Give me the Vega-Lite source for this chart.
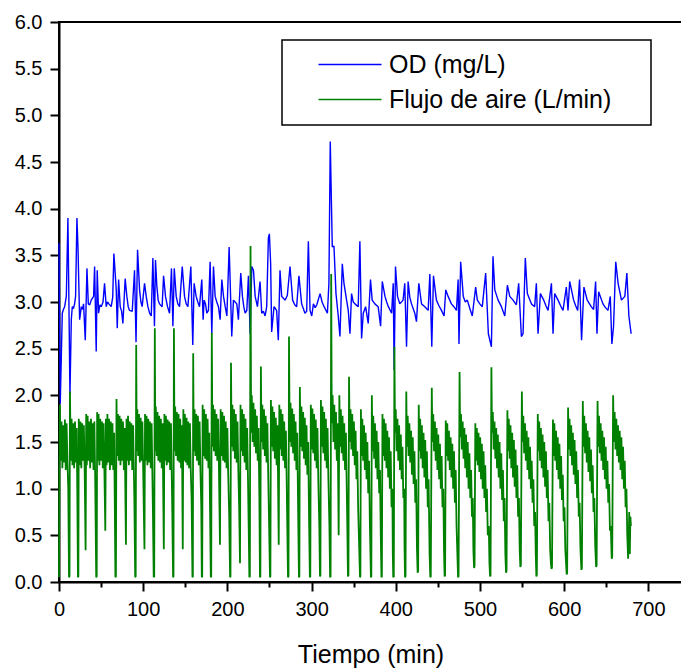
{
"$schema": "https://vega.github.io/schema/vega-lite/v6.json",
"autosize": {"type": "none"},
"padding": {"left": 59, "top": 22, "right": 0, "bottom": 86},
"width": 623,
"height": 560,
"background": "white",
"config": {
  "font": "Liberation Sans",
  "view": {"stroke": "black", "strokeWidth": 2},
  "legend": {"strokeWidth": 1.5}
},
"datasets": {
"od": [
{"t":0,"v":3.63},{"t":1.5,"v":1.91},{"t":3.9,"v":2.88},{"t":5.2,"v":2.92},{"t":6.7,"v":2.95},{"t":8.7,"v":3.06},{"t":10.6,"v":3.9},{"t":11.7,"v":3.06},{"t":13,"v":2.0},{"t":14.6,"v":2.81},{"t":15.8,"v":2.95},{"t":17.2,"v":2.93},{"t":18.5,"v":2.98},{"t":19.7,"v":3.06},{"t":21.3,"v":3.9},{"t":22.5,"v":3.6},{"t":24.5,"v":2.81},{"t":26.5,"v":2.95},{"t":27.8,"v":2.92},{"t":29.2,"v":2.98},{"t":31.2,"v":2.59},{"t":33.2,"v":3.36},{"t":34.8,"v":2.98},{"t":36.5,"v":2.97},{"t":38.3,"v":3.02},{"t":41.1,"v":3.06},{"t":42.3,"v":3.38},{"t":44.2,"v":2.47},{"t":45.4,"v":3.34},{"t":47,"v":2.88},{"t":48.6,"v":2.97},{"t":50.2,"v":2.95},{"t":52.3,"v":3.0},{"t":54.1,"v":3.2},{"t":56.1,"v":2.95},{"t":57.6,"v":3.0},{"t":59.3,"v":2.98},{"t":62,"v":2.95},{"t":63.8,"v":3.05},{"t":65.2,"v":3.52},{"t":68,"v":3.13},{"t":69.2,"v":2.72},{"t":70.8,"v":3.24},{"t":72.7,"v":2.95},{"t":74.4,"v":2.9},{"t":75.9,"v":2.77},{"t":78.6,"v":3.25},{"t":80.6,"v":3.06},{"t":82.2,"v":2.95},{"t":83.8,"v":2.91},{"t":87,"v":2.9},{"t":89.7,"v":3.34},{"t":91.5,"v":2.57},{"t":93.3,"v":3.56},{"t":95.7,"v":3.13},{"t":97.3,"v":3.0},{"t":98.8,"v":2.95},{"t":101.6,"v":3.2},{"t":103.6,"v":3.06},{"t":105.6,"v":2.95},{"t":107.6,"v":2.88},{"t":109.6,"v":2.85},{"t":111.5,"v":3.47},{"t":113.4,"v":2.74},{"t":114.6,"v":3.45},{"t":116.2,"v":3.17},{"t":117.8,"v":3.02},{"t":119.4,"v":2.98},{"t":122.5,"v":2.95},{"t":124.2,"v":3.28},{"t":126.5,"v":3.06},{"t":128.9,"v":2.95},{"t":131.3,"v":2.88},{"t":133.6,"v":3.36},{"t":135.3,"v":2.74},{"t":136.9,"v":3.36},{"t":139.2,"v":3.06},{"t":141.2,"v":2.98},{"t":143.2,"v":2.95},{"t":146.4,"v":3.38},{"t":149.1,"v":3.06},{"t":151.1,"v":2.98},{"t":153.1,"v":2.95},{"t":156.6,"v":3.38},{"t":158.9,"v":2.54},{"t":160.5,"v":3.2},{"t":162.9,"v":3.06},{"t":164.9,"v":3.0},{"t":166.9,"v":2.95},{"t":169.6,"v":3.24},{"t":171.2,"v":2.81},{"t":172.4,"v":3.02},{"t":174,"v":2.98},{"t":175.6,"v":2.88},{"t":177.5,"v":2.91},{"t":179.5,"v":3.43},{"t":181.5,"v":2.66},{"t":183.5,"v":3.38},{"t":185.5,"v":3.06},{"t":187.4,"v":3.0},{"t":189.4,"v":2.95},{"t":191.4,"v":2.81},{"t":193.4,"v":3.24},{"t":195.4,"v":3.06},{"t":197.4,"v":2.95},{"t":199.4,"v":2.85},{"t":202.1,"v":3.59},{"t":205.2,"v":2.63},{"t":207.2,"v":3.02},{"t":209.2,"v":3.0},{"t":211.2,"v":2.98},{"t":213.1,"v":2.81},{"t":215.9,"v":3.31},{"t":217.9,"v":3.06},{"t":219.5,"v":2.95},{"t":221.1,"v":2.88},{"t":223.1,"v":2.91},{"t":225,"v":3.28},{"t":227,"v":2.66},{"t":229,"v":3.38},{"t":231,"v":3.34},{"t":233,"v":3.06},{"t":235.7,"v":2.95},{"t":238.8,"v":3.22},{"t":240.8,"v":2.88},{"t":242.8,"v":2.9},{"t":244.8,"v":2.85},{"t":246.7,"v":2.95},{"t":248.7,"v":3.69},{"t":249.9,"v":3.73},{"t":251.4,"v":3.41},{"t":252.6,"v":2.68},{"t":255.4,"v":2.95},{"t":257,"v":2.93},{"t":258.5,"v":2.91},{"t":260.5,"v":2.59},{"t":262.5,"v":3.34},{"t":264.5,"v":3.06},{"t":266.5,"v":3.04},{"t":268.5,"v":3.02},{"t":271.2,"v":3.07},{"t":274.4,"v":3.38},{"t":277.5,"v":3.02},{"t":280,"v":2.97},{"t":282.3,"v":2.95},{"t":285,"v":3.28},{"t":288.2,"v":2.98},{"t":290.2,"v":2.93},{"t":292.1,"v":2.88},{"t":294.2,"v":2.9},{"t":296.2,"v":3.65},{"t":298.2,"v":2.91},{"t":300.2,"v":2.85},{"t":302.2,"v":2.98},{"t":304.2,"v":2.94},{"t":306.2,"v":2.97},{"t":310.1,"v":3.09},{"t":312.5,"v":3.0},{"t":314.9,"v":2.95},{"t":318.8,"v":2.88},{"t":320.6,"v":3.2},{"t":322.2,"v":4.72},{"t":324.6,"v":3.59},{"t":326.6,"v":3.6},{"t":329,"v":3.09},{"t":331.7,"v":2.85},{"t":333.7,"v":2.63},{"t":336.5,"v":3.41},{"t":338.5,"v":3.2},{"t":341.6,"v":3.02},{"t":343.6,"v":2.91},{"t":345.6,"v":2.66},{"t":347.5,"v":3.09},{"t":349.5,"v":3.0},{"t":351.5,"v":2.98},{"t":355.4,"v":2.95},{"t":357.4,"v":3.65},{"t":359.4,"v":2.61},{"t":361.4,"v":2.88},{"t":364.2,"v":2.95},{"t":367.3,"v":2.77},{"t":370,"v":3.24},{"t":372,"v":3.02},{"t":375.2,"v":2.98},{"t":379.1,"v":2.95},{"t":382,"v":2.74},{"t":384,"v":3.22},{"t":387.2,"v":3.06},{"t":389.2,"v":3.0},{"t":391.2,"v":2.95},{"t":395.1,"v":2.88},{"t":397,"v":3.2},{"t":398.1,"v":2.27},{"t":399.7,"v":3.38},{"t":402.1,"v":3.06},{"t":404.8,"v":2.98},{"t":408.7,"v":3.02},{"t":410.7,"v":3.2},{"t":412.8,"v":2.52},{"t":414.7,"v":3.22},{"t":416.7,"v":3.05},{"t":418.7,"v":2.98},{"t":422.6,"v":2.88},{"t":424.6,"v":2.79},{"t":427.4,"v":3.2},{"t":430.6,"v":2.98},{"t":434.5,"v":2.95},{"t":438.5,"v":2.91},{"t":440.5,"v":3.3},{"t":442.8,"v":2.52},{"t":444.8,"v":3.28},{"t":448.3,"v":3.02},{"t":451.3,"v":2.96},{"t":454.3,"v":2.91},{"t":457.4,"v":2.85},{"t":459.4,"v":3.13},{"t":462.2,"v":3.06},{"t":466.1,"v":2.98},{"t":469.1,"v":2.95},{"t":472.1,"v":2.91},{"t":474.1,"v":3.24},{"t":475.1,"v":2.55},{"t":477.1,"v":3.43},{"t":480.2,"v":3.06},{"t":482.6,"v":3.0},{"t":485,"v":3.02},{"t":488,"v":2.93},{"t":490.9,"v":2.85},{"t":494.9,"v":3.16},{"t":496.9,"v":3.02},{"t":499.8,"v":2.98},{"t":502.8,"v":2.95},{"t":506.8,"v":3.31},{"t":510,"v":2.66},{"t":513.6,"v":2.52},{"t":515.5,"v":3.49},{"t":517.6,"v":3.13},{"t":521.6,"v":3.02},{"t":525.5,"v":2.95},{"t":529.5,"v":2.85},{"t":532.6,"v":3.18},{"t":535.4,"v":3.06},{"t":539.3,"v":3.02},{"t":543.3,"v":2.97},{"t":546,"v":3.2},{"t":549.2,"v":2.63},{"t":551.2,"v":2.66},{"t":553.9,"v":3.47},{"t":556.3,"v":3.09},{"t":561.1,"v":2.98},{"t":565,"v":2.95},{"t":567,"v":3.2},{"t":569,"v":2.66},{"t":571.8,"v":3.09},{"t":575.8,"v":3.02},{"t":578.4,"v":2.96},{"t":580.9,"v":2.91},{"t":584.9,"v":3.2},{"t":586.8,"v":2.66},{"t":588.8,"v":3.09},{"t":592.8,"v":3.02},{"t":595.8,"v":2.96},{"t":598.7,"v":2.91},{"t":602.6,"v":3.16},{"t":604.6,"v":2.91},{"t":606.6,"v":3.22},{"t":611.3,"v":3.02},{"t":613.7,"v":2.96},{"t":616.1,"v":2.91},{"t":618.3,"v":3.24},{"t":620.7,"v":2.59},{"t":623.5,"v":3.16},{"t":627.4,"v":3.02},{"t":632.2,"v":2.95},{"t":635,"v":2.92},{"t":637.4,"v":3.22},{"t":639,"v":2.66},{"t":641,"v":3.11},{"t":646.1,"v":2.98},{"t":649.1,"v":2.94},{"t":652.1,"v":2.91},{"t":654.8,"v":3.06},{"t":656.7,"v":2.55},{"t":658.7,"v":2.74},{"t":661.3,"v":3.43},{"t":664.1,"v":3.2},{"t":668.1,"v":3.02},{"t":672.1,"v":3.06},{"t":674.5,"v":3.31},{"t":676.9,"v":2.85},{"t":679.6,"v":2.66}
],
"aire": [
{"t":0,"v":0.05},{"t":0.5,"v":1.2},{"t":1,"v":1.9},{"t":2,"v":1.3},{"t":3,"v":1.72},{"t":4,"v":1.22},{"t":5,"v":1.68},{"t":6,"v":1.28},{"t":7,"v":1.74},{"t":8,"v":1.2},{"t":9,"v":1.7},{"t":10,"v":1.3},{"t":11,"v":1.0},{"t":11.9,"v":0.05},{"t":12.5,"v":0.06},
{"t":13,"v":2.04},{"t":14,"v":1.3},{"t":15,"v":1.75},{"t":16,"v":1.25},{"t":17,"v":1.7},{"t":18,"v":1.22},{"t":19,"v":1.72},{"t":20,"v":1.28},{"t":21,"v":1.65},{"t":21.8,"v":0.9},{"t":22.5,"v":0.05},{"t":23,"v":0.06},
{"t":23.5,"v":1.75},{"t":24.5,"v":1.25},{"t":25.5,"v":1.72},{"t":26.5,"v":1.22},{"t":27.5,"v":1.7},{"t":28.5,"v":1.3},{"t":29.5,"v":1.68},{"t":30.5,"v":1.2},{"t":31.6,"v":0.34},
{"t":32.3,"v":1.8},{"t":33,"v":1.25},{"t":34,"v":1.78},{"t":35,"v":1.3},{"t":36,"v":1.72},{"t":37,"v":1.22},{"t":38,"v":1.75},{"t":39,"v":1.28},{"t":40,"v":1.7},{"t":41,"v":1.2},{"t":42,"v":1.72},{"t":43,"v":1.1},{"t":44.2,"v":0.05},{"t":44.8,"v":0.06},
{"t":45.3,"v":1.82},{"t":46,"v":1.3},{"t":47,"v":1.8},{"t":48,"v":1.25},{"t":49,"v":1.75},{"t":50,"v":1.3},{"t":51,"v":1.72},{"t":52,"v":1.22},{"t":53,"v":1.7},{"t":54,"v":1.15},{"t":55,"v":0.55},
{"t":55.7,"v":1.75},{"t":56.5,"v":1.25},{"t":57.5,"v":1.8},{"t":58.5,"v":1.28},{"t":59.5,"v":1.75},{"t":60.5,"v":1.2},{"t":61.5,"v":1.72},{"t":62.5,"v":1.25},{"t":63.5,"v":1.7},{"t":64.5,"v":1.2},{"t":65.5,"v":1.6},{"t":66.3,"v":0.8},{"t":67,"v":0.05},{"t":67.6,"v":0.06},
{"t":68.3,"v":1.96},{"t":69,"v":1.35},{"t":70,"v":1.8},{"t":71,"v":1.3},{"t":72,"v":1.78},{"t":73,"v":1.25},{"t":74,"v":1.75},{"t":75,"v":1.3},{"t":76,"v":1.72},{"t":77,"v":1.2},{"t":78,"v":1.65},{"t":79.5,"v":0.4},
{"t":80.2,"v":1.75},{"t":81,"v":1.3},{"t":82,"v":1.78},{"t":83,"v":1.25},{"t":84,"v":1.72},{"t":85,"v":1.3},{"t":86,"v":1.7},{"t":87,"v":1.2},{"t":88,"v":1.68},{"t":89.5,"v":0.9},{"t":90.5,"v":0.05},{"t":91.1,"v":0.06},
{"t":91.7,"v":2.54},{"t":92.3,"v":1.4},{"t":93,"v":1.85},{"t":94,"v":1.35},{"t":95,"v":1.8},{"t":96,"v":1.28},{"t":97,"v":1.76},{"t":98,"v":1.3},{"t":99,"v":1.72},{"t":100,"v":1.2},{"t":101.5,"v":0.35},
{"t":102.2,"v":1.8},{"t":103,"v":1.3},{"t":104,"v":1.78},{"t":105,"v":1.25},{"t":106,"v":1.75},{"t":107,"v":1.28},{"t":108,"v":1.72},{"t":109,"v":1.22},{"t":110,"v":1.7},{"t":111.5,"v":0.8},{"t":112.5,"v":0.05},{"t":113.1,"v":0.06},
{"t":113.8,"v":2.72},{"t":114.4,"v":1.4},{"t":115,"v":1.88},{"t":116,"v":1.35},{"t":117,"v":1.82},{"t":118,"v":1.3},{"t":119,"v":1.78},{"t":120,"v":1.28},{"t":121,"v":1.75},{"t":122,"v":1.22},{"t":123,"v":1.7},{"t":124.5,"v":0.35},
{"t":125.2,"v":1.8},{"t":126,"v":1.3},{"t":127,"v":1.78},{"t":128,"v":1.25},{"t":129,"v":1.74},{"t":130,"v":1.28},{"t":131,"v":1.72},{"t":132,"v":1.2},{"t":133,"v":1.7},{"t":134.5,"v":0.8},{"t":135.5,"v":0.05},{"t":136,"v":0.06},
{"t":136.5,"v":2.72},{"t":137.2,"v":1.4},{"t":138,"v":1.88},{"t":139,"v":1.35},{"t":140,"v":1.82},{"t":141,"v":1.3},{"t":142,"v":1.8},{"t":143,"v":1.28},{"t":144,"v":1.75},{"t":145,"v":1.22},{"t":146,"v":1.68},{"t":147,"v":0.35},
{"t":147.7,"v":1.85},{"t":148.5,"v":1.3},{"t":149.5,"v":1.8},{"t":150.5,"v":1.28},{"t":151.5,"v":1.76},{"t":152.5,"v":1.25},{"t":153.5,"v":1.72},{"t":154.5,"v":1.22},{"t":155.5,"v":1.7},{"t":156.5,"v":1.2},{"t":157.5,"v":0.9},{"t":158.5,"v":0.05},{"t":159,"v":0.06},
{"t":159.4,"v":2.45},{"t":160,"v":1.4},{"t":161,"v":1.85},{"t":162,"v":1.35},{"t":163,"v":1.8},{"t":164,"v":1.3},{"t":165,"v":1.78},{"t":166,"v":1.25},{"t":167,"v":1.72},{"t":168,"v":1.2},{"t":169,"v":0.8},{"t":169.6,"v":0.05},{"t":170.1,"v":0.06},
{"t":170.6,"v":1.9},{"t":171.5,"v":1.35},{"t":172.5,"v":1.85},{"t":173.5,"v":1.32},{"t":174.5,"v":1.8},{"t":175.5,"v":1.3},{"t":176.5,"v":1.75},{"t":177.5,"v":1.22},{"t":178.5,"v":1.6},{"t":179.5,"v":0.7},{"t":180.3,"v":0.05},{"t":180.8,"v":0.06},
{"t":181.5,"v":2.67},{"t":182.2,"v":1.45},{"t":183,"v":1.9},{"t":184,"v":1.4},{"t":185,"v":1.85},{"t":186,"v":1.35},{"t":187,"v":1.8},{"t":188,"v":1.3},{"t":189,"v":1.75},{"t":190,"v":1.2},{"t":191.2,"v":0.4},
{"t":192,"v":1.85},{"t":193,"v":1.35},{"t":194,"v":1.82},{"t":195,"v":1.3},{"t":196,"v":1.78},{"t":197,"v":1.28},{"t":198,"v":1.72},{"t":199,"v":1.22},{"t":200,"v":1.65},{"t":201,"v":1.15},{"t":202.2,"v":0.7},{"t":203.2,"v":0.05},{"t":203.7,"v":0.06},
{"t":204.3,"v":2.35},{"t":205,"v":1.45},{"t":206,"v":1.9},{"t":207,"v":1.4},{"t":208,"v":1.85},{"t":209,"v":1.32},{"t":210,"v":1.8},{"t":211,"v":1.28},{"t":212,"v":1.72},{"t":213,"v":1.2},{"t":214,"v":0.8},{"t":215,"v":0.2},
{"t":215.6,"v":1.9},{"t":216.5,"v":1.4},{"t":217.5,"v":1.85},{"t":218.5,"v":1.35},{"t":219.5,"v":1.8},{"t":220.5,"v":1.28},{"t":221.5,"v":1.75},{"t":222.5,"v":1.2},{"t":223.5,"v":1.65},{"t":224.5,"v":1.1},{"t":225.3,"v":0.6},{"t":226.1,"v":0.05},{"t":226.7,"v":0.06},
{"t":227.5,"v":3.6},{"t":228.2,"v":1.6},{"t":229,"v":2.0},{"t":230,"v":1.5},{"t":231,"v":1.92},{"t":232,"v":1.45},{"t":233,"v":1.85},{"t":234,"v":1.38},{"t":235,"v":1.78},{"t":236,"v":1.3},{"t":237,"v":1.65},{"t":238,"v":0.9},{"t":238.7,"v":0.05},{"t":239.2,"v":0.06},
{"t":239.8,"v":2.31},{"t":240.5,"v":1.5},{"t":241.5,"v":1.9},{"t":242.5,"v":1.42},{"t":243.5,"v":1.85},{"t":244.5,"v":1.35},{"t":245.5,"v":1.78},{"t":246.5,"v":1.28},{"t":247.5,"v":1.7},{"t":248.5,"v":1.15},{"t":249.6,"v":0.6},{"t":250.6,"v":0.05},{"t":251.1,"v":0.06},
{"t":251.7,"v":1.95},{"t":252.5,"v":1.45},{"t":253.5,"v":1.88},{"t":254.5,"v":1.4},{"t":255.5,"v":1.82},{"t":256.5,"v":1.32},{"t":257.5,"v":1.76},{"t":258.5,"v":1.25},{"t":259.5,"v":1.68},{"t":260.3,"v":1.0},{"t":261,"v":0.4},
{"t":261.7,"v":1.9},{"t":262.5,"v":1.42},{"t":263.5,"v":1.85},{"t":264.5,"v":1.35},{"t":265.5,"v":1.8},{"t":266.5,"v":1.3},{"t":267.5,"v":1.72},{"t":268.5,"v":1.22},{"t":269.5,"v":1.62},{"t":270.5,"v":1.05},{"t":271.3,"v":0.5},{"t":272,"v":0.05},{"t":272.6,"v":0.06},
{"t":273.2,"v":2.63},{"t":274,"v":1.5},{"t":275,"v":1.92},{"t":276,"v":1.45},{"t":277,"v":1.86},{"t":278,"v":1.38},{"t":279,"v":1.8},{"t":280,"v":1.3},{"t":281,"v":1.72},{"t":282,"v":1.2},{"t":283,"v":1.6},{"t":284,"v":0.8},{"t":285,"v":0.05},{"t":285.5,"v":0.06},
{"t":286.1,"v":2.09},{"t":287,"v":1.45},{"t":288,"v":1.88},{"t":289,"v":1.4},{"t":290,"v":1.82},{"t":291,"v":1.32},{"t":292,"v":1.76},{"t":293,"v":1.25},{"t":294,"v":1.68},{"t":295,"v":1.15},{"t":296,"v":1.5},{"t":297,"v":0.7},{"t":298,"v":0.05},{"t":298.5,"v":0.06},
{"t":299.1,"v":1.9},{"t":300,"v":1.42},{"t":301,"v":1.86},{"t":302,"v":1.38},{"t":303,"v":1.8},{"t":304,"v":1.3},{"t":305,"v":1.74},{"t":306,"v":1.22},{"t":307,"v":1.65},{"t":308,"v":1.1},{"t":309.2,"v":0.6},{"t":310,"v":0.06},{"t":310.5,"v":0.07},
{"t":311.1,"v":1.95},{"t":312,"v":1.45},{"t":313,"v":1.88},{"t":314,"v":1.38},{"t":315,"v":1.82},{"t":316,"v":1.3},{"t":317,"v":1.75},{"t":318,"v":1.22},{"t":319,"v":1.65},{"t":320,"v":1.1},{"t":321.2,"v":0.6},{"t":322,"v":0.05},{"t":322.6,"v":0.06},
{"t":323.3,"v":3.3},{"t":324,"v":1.7},{"t":325,"v":2.0},{"t":326,"v":1.5},{"t":327,"v":1.9},{"t":328,"v":1.42},{"t":329,"v":1.82},{"t":330,"v":1.3},{"t":331,"v":1.7},{"t":332.2,"v":0.5},
{"t":333,"v":2.0},{"t":333.8,"v":1.45},{"t":334.8,"v":1.85},{"t":335.8,"v":1.38},{"t":336.8,"v":1.78},{"t":337.8,"v":1.3},{"t":338.8,"v":1.7},{"t":339.8,"v":1.2},{"t":340.8,"v":1.6},{"t":341.8,"v":1.0},{"t":342.6,"v":0.5},{"t":343.2,"v":0.06},{"t":343.8,"v":0.07},
{"t":344.5,"v":2.2},{"t":345.3,"v":1.5},{"t":346.3,"v":1.85},{"t":347.3,"v":1.42},{"t":348.3,"v":1.8},{"t":349.3,"v":1.35},{"t":350.3,"v":1.72},{"t":351.3,"v":1.25},{"t":352.3,"v":1.62},{"t":353.3,"v":1.1},{"t":354.3,"v":1.4},{"t":355.3,"v":0.8},{"t":356.5,"v":0.4},{"t":357.5,"v":0.05},{"t":358,"v":0.06},
{"t":358.6,"v":1.85},{"t":359.3,"v":1.35},{"t":360.3,"v":1.75},{"t":361.3,"v":1.3},{"t":362.3,"v":1.68},{"t":363.3,"v":1.2},{"t":364.3,"v":1.6},{"t":365.3,"v":1.1},{"t":366.3,"v":1.5},{"t":367.3,"v":0.95},{"t":368.3,"v":1.3},{"t":369.3,"v":0.6},{"t":370.5,"v":0.05},{"t":371,"v":0.06},
{"t":371.6,"v":2.0},{"t":372.3,"v":1.4},{"t":373.3,"v":1.78},{"t":374.3,"v":1.32},{"t":375.3,"v":1.7},{"t":376.3,"v":1.22},{"t":377.3,"v":1.62},{"t":378.3,"v":1.1},{"t":379.3,"v":1.5},{"t":380.3,"v":0.95},{"t":381.3,"v":1.2},{"t":382.2,"v":0.5},{"t":383,"v":0.05},{"t":383.5,"v":0.06},
{"t":384.2,"v":1.8},{"t":385,"v":1.35},{"t":386,"v":1.75},{"t":387,"v":1.3},{"t":388,"v":1.7},{"t":389,"v":1.22},{"t":390,"v":1.62},{"t":391,"v":1.12},{"t":392,"v":1.55},{"t":393,"v":1.0},{"t":394,"v":1.4},{"t":395,"v":0.8},{"t":396,"v":1.0},{"t":396.5,"v":0.3},{"t":397,"v":0.05},{"t":397.7,"v":0.06},
{"t":398.4,"v":2.52},{"t":399.1,"v":1.6},{"t":400,"v":1.85},{"t":401,"v":1.4},{"t":402,"v":1.75},{"t":403,"v":1.3},{"t":404,"v":1.68},{"t":405,"v":1.2},{"t":406,"v":1.58},{"t":407,"v":1.1},{"t":408,"v":1.45},{"t":409,"v":0.9},{"t":410,"v":1.0},{"t":410.4,"v":0.4},{"t":411,"v":0.05},{"t":411.6,"v":0.06},
{"t":412.5,"v":2.04},{"t":413.2,"v":1.45},{"t":414.2,"v":1.78},{"t":415.2,"v":1.35},{"t":416.2,"v":1.7},{"t":417.2,"v":1.28},{"t":418.2,"v":1.62},{"t":419.2,"v":1.15},{"t":420.2,"v":1.55},{"t":421.2,"v":1.05},{"t":422.2,"v":1.4},{"t":423.2,"v":0.85},{"t":424.2,"v":1.1},{"t":425.2,"v":0.35},{"t":426,"v":0.1},{"t":426.6,"v":0.12},
{"t":427.3,"v":1.9},{"t":428,"v":1.4},{"t":429,"v":1.75},{"t":430,"v":1.32},{"t":431,"v":1.68},{"t":432,"v":1.22},{"t":433,"v":1.6},{"t":434,"v":1.12},{"t":435,"v":1.52},{"t":436,"v":1.0},{"t":437,"v":1.4},{"t":438,"v":0.8},{"t":439,"v":1.1},{"t":440.2,"v":0.3},{"t":441,"v":0.05},{"t":441.6,"v":0.06},
{"t":442.8,"v":2.08},{"t":443.5,"v":1.5},{"t":444.5,"v":1.8},{"t":445.5,"v":1.4},{"t":446.5,"v":1.72},{"t":447.5,"v":1.3},{"t":448.5,"v":1.65},{"t":449.5,"v":1.2},{"t":450.5,"v":1.58},{"t":451.5,"v":1.1},{"t":452.5,"v":1.48},{"t":453.5,"v":1.0},{"t":454.5,"v":1.35},{"t":455.5,"v":0.8},{"t":456.5,"v":1.0},{"t":457.3,"v":0.35},{"t":458,"v":0.06},{"t":458.6,"v":0.07},
{"t":459.4,"v":1.73},{"t":460.2,"v":1.35},{"t":461.2,"v":1.7},{"t":462.2,"v":1.3},{"t":463.2,"v":1.62},{"t":464.2,"v":1.2},{"t":465.2,"v":1.55},{"t":466.2,"v":1.12},{"t":467.2,"v":1.48},{"t":468.2,"v":1.0},{"t":469.2,"v":1.4},{"t":470.2,"v":0.85},{"t":471.2,"v":1.2},{"t":472.2,"v":0.6},{"t":473.2,"v":0.3},{"t":474,"v":0.05},{"t":474.6,"v":0.06},
{"t":475.8,"v":2.25},{"t":476.5,"v":1.55},{"t":477.5,"v":1.8},{"t":478.5,"v":1.42},{"t":479.5,"v":1.72},{"t":480.5,"v":1.32},{"t":481.5,"v":1.65},{"t":482.5,"v":1.22},{"t":483.5,"v":1.58},{"t":484.5,"v":1.12},{"t":485.5,"v":1.5},{"t":486.5,"v":1.0},{"t":487.5,"v":1.38},{"t":488.5,"v":0.9},{"t":489.5,"v":1.2},{"t":490.5,"v":0.7},{"t":491.5,"v":0.9},{"t":492.2,"v":0.35},{"t":493,"v":0.15},{"t":493.6,"v":0.17},
{"t":494.5,"v":1.7},{"t":495.3,"v":1.3},{"t":496.3,"v":1.65},{"t":497.3,"v":1.25},{"t":498.3,"v":1.6},{"t":499.3,"v":1.18},{"t":500.3,"v":1.55},{"t":501.3,"v":1.1},{"t":502.3,"v":1.48},{"t":503.3,"v":1.0},{"t":504.3,"v":1.4},{"t":505.3,"v":0.9},{"t":506.3,"v":1.25},{"t":507.3,"v":0.75},{"t":508.3,"v":1.0},{"t":509.3,"v":0.5},{"t":510.5,"v":0.6},{"t":511.3,"v":0.2},{"t":512,"v":0.06},{"t":512.6,"v":0.07},
{"t":513.6,"v":2.3},{"t":514.3,"v":1.6},{"t":515.3,"v":1.82},{"t":516.3,"v":1.42},{"t":517.3,"v":1.72},{"t":518.3,"v":1.32},{"t":519.3,"v":1.65},{"t":520.3,"v":1.22},{"t":521.3,"v":1.58},{"t":522.3,"v":1.12},{"t":523.3,"v":1.5},{"t":524.3,"v":1.0},{"t":525.3,"v":1.38},{"t":526.3,"v":0.88},{"t":527.3,"v":1.2},{"t":528.3,"v":0.65},{"t":529.3,"v":0.9},{"t":530.2,"v":0.3},{"t":531,"v":0.1},{"t":531.6,"v":0.12},
{"t":532.6,"v":1.84},{"t":533.3,"v":1.4},{"t":534.3,"v":1.75},{"t":535.3,"v":1.32},{"t":536.3,"v":1.68},{"t":537.3,"v":1.22},{"t":538.3,"v":1.6},{"t":539.3,"v":1.12},{"t":540.3,"v":1.52},{"t":541.3,"v":1.02},{"t":542.3,"v":1.42},{"t":543.3,"v":0.9},{"t":544.3,"v":1.25},{"t":545.3,"v":0.7},{"t":546.3,"v":0.9},{"t":547.2,"v":0.35},{"t":548,"v":0.16},{"t":548.6,"v":0.18},
{"t":549.8,"v":2.04},{"t":550.5,"v":1.5},{"t":551.5,"v":1.78},{"t":552.5,"v":1.38},{"t":553.5,"v":1.7},{"t":554.5,"v":1.3},{"t":555.5,"v":1.62},{"t":556.5,"v":1.2},{"t":557.5,"v":1.55},{"t":558.5,"v":1.1},{"t":559.5,"v":1.45},{"t":560.5,"v":1.0},{"t":561.5,"v":1.3},{"t":562.5,"v":0.85},{"t":563.5,"v":1.1},{"t":564.5,"v":0.6},{"t":565.5,"v":0.75},{"t":566.3,"v":0.3},{"t":567,"v":0.06},{"t":567.6,"v":0.08},
{"t":568.7,"v":1.8},{"t":569.4,"v":1.4},{"t":570.4,"v":1.72},{"t":571.4,"v":1.3},{"t":572.4,"v":1.65},{"t":573.4,"v":1.22},{"t":574.4,"v":1.58},{"t":575.4,"v":1.12},{"t":576.4,"v":1.5},{"t":577.4,"v":1.02},{"t":578.4,"v":1.4},{"t":579.4,"v":0.9},{"t":580.4,"v":1.2},{"t":581.4,"v":0.65},{"t":582.4,"v":0.85},{"t":583.4,"v":0.35},{"t":584.3,"v":0.2},{"t":585,"v":0.14},{"t":585.6,"v":0.16},
{"t":586.7,"v":1.74},{"t":587.4,"v":1.35},{"t":588.4,"v":1.7},{"t":589.4,"v":1.3},{"t":590.4,"v":1.62},{"t":591.4,"v":1.2},{"t":592.4,"v":1.55},{"t":593.4,"v":1.1},{"t":594.4,"v":1.48},{"t":595.4,"v":1.0},{"t":596.4,"v":1.35},{"t":597.4,"v":0.88},{"t":598.4,"v":1.15},{"t":599.4,"v":0.65},{"t":600.4,"v":0.8},{"t":601.4,"v":0.35},{"t":602.3,"v":0.2},{"t":603,"v":0.08},{"t":603.6,"v":0.1},
{"t":604.7,"v":1.87},{"t":605.4,"v":1.42},{"t":606.4,"v":1.75},{"t":607.4,"v":1.35},{"t":608.4,"v":1.68},{"t":609.4,"v":1.25},{"t":610.4,"v":1.6},{"t":611.4,"v":1.15},{"t":612.4,"v":1.52},{"t":613.4,"v":1.05},{"t":614.4,"v":1.4},{"t":615.4,"v":0.9},{"t":616.4,"v":1.2},{"t":617.4,"v":0.7},{"t":618.4,"v":0.85},{"t":619.4,"v":0.35},{"t":620.5,"v":0.13},{"t":621.1,"v":0.15},
{"t":622.2,"v":1.94},{"t":622.9,"v":1.45},{"t":623.9,"v":1.78},{"t":624.9,"v":1.38},{"t":625.9,"v":1.7},{"t":626.9,"v":1.28},{"t":627.9,"v":1.62},{"t":628.9,"v":1.18},{"t":629.9,"v":1.55},{"t":630.9,"v":1.08},{"t":631.9,"v":1.42},{"t":632.9,"v":0.95},{"t":633.9,"v":1.25},{"t":634.9,"v":0.75},{"t":635.9,"v":0.9},{"t":636.9,"v":0.4},{"t":638,"v":0.16},{"t":638.6,"v":0.18},
{"t":639.7,"v":1.94},{"t":640.4,"v":1.45},{"t":641.4,"v":1.78},{"t":642.4,"v":1.38},{"t":643.4,"v":1.7},{"t":644.4,"v":1.3},{"t":645.4,"v":1.62},{"t":646.4,"v":1.2},{"t":647.4,"v":1.55},{"t":648.4,"v":1.1},{"t":649.4,"v":1.45},{"t":650.4,"v":1.0},{"t":651.4,"v":1.3},{"t":652.4,"v":0.85},{"t":653.4,"v":1.05},{"t":654.4,"v":0.55},{"t":655.4,"v":0.6},{"t":656.5,"v":0.25},{"t":657.1,"v":0.27},
{"t":658.2,"v":2.0},{"t":659,"v":1.5},{"t":660,"v":1.82},{"t":661,"v":1.42},{"t":662,"v":1.75},{"t":663,"v":1.35},{"t":664,"v":1.68},{"t":665,"v":1.28},{"t":666,"v":1.62},{"t":667,"v":1.2},{"t":668,"v":1.55},{"t":669,"v":1.1},{"t":670,"v":1.45},{"t":671,"v":1.0},{"t":672,"v":1.3},{"t":673,"v":0.8},{"t":674,"v":1.0},{"t":675,"v":0.5},{"t":676,"v":0.25},{"t":676.6,"v":0.4},{"t":677.3,"v":0.75},{"t":678,"v":0.3},{"t":678.7,"v":0.7},{"t":679.3,"v":0.6}
]
},
"layer": [
{
  "data": {"name": "od"},
  "mark": {"type": "line", "strokeWidth": 1.4, "strokeJoin": "bevel"},
  "encoding": {
    "x": {"field": "t", "type": "quantitative",
      "scale": {"domain": [0, 740], "nice": false, "zero": false},
      "axis": {
        "values": [0,50,100,150,200,250,300,350,400,450,500,550,600,650,700],
        "labelExpr": "datum.value % 100 === 0 ? format(datum.value, 'd') : ''",
        "tickSize": {"condition": {"test": "datum.value % 100 === 0", "value": 9}, "value": 5},
        "tickWidth": 2, "tickColor": "black",
        "domainWidth": 2, "domainColor": "black",
        "grid": false,
        "labelFontSize": 20, "labelColor": "black", "labelPadding": 8,
        "labelFlush": false, "labelOverlap": false,
        "title": "Tiempo (min)", "titleFontSize": 25, "titleFontWeight": "normal",
        "titleColor": "black", "titlePadding": 23
      }
    },
    "y": {"field": "v", "type": "quantitative",
      "scale": {"domain": [0, 6], "nice": false, "zero": false},
      "axis": {
        "values": [0,0.25,0.5,0.75,1,1.25,1.5,1.75,2,2.25,2.5,2.75,3,3.25,3.5,3.75,4,4.25,4.5,4.75,5,5.25,5.5,5.75,6],
        "labelExpr": "round(datum.value*4) % 2 === 0 ? format(datum.value, '.1f') : ''",
        "tickSize": {"condition": {"test": "round(datum.value*4) % 2 === 0", "value": 9}, "value": 5},
        "tickWidth": 2, "tickColor": "black",
        "domainWidth": 2, "domainColor": "black",
        "grid": false,
        "labelFontSize": 20, "labelColor": "black", "labelPadding": 8,
        "labelFlush": false, "labelOverlap": false,
        "title": null
      }
    },
    "color": {"datum": "OD (mg/L)", "type": "nominal",
      "scale": {"domain": ["OD (mg/L)", "Flujo de aire (L/min)"], "range": ["#0000ff", "#008000"]},
      "legend": {
        "orient": "none", "legendX": 223, "legendY": 18,
        "title": null,
        "strokeColor": "black",
        "fillColor": "white",
        "padding": 12,
        "rowPadding": 9,
        "labelFontSize": 25, "labelColor": "black",
        "labelOffset": 26.5,
        "symbolOffset": 43.5,
        "symbolSize": 441,
        "symbolType": "M-3,0H3M27.2,0",
        "symbolStrokeWidth": 1.5,
        "labelLimit": 400
      }
    }
  }
},
{
  "data": {"name": "aire"},
  "mark": {"type": "line", "strokeWidth": 1.8, "strokeJoin": "bevel"},
  "encoding": {
    "x": {"field": "t", "type": "quantitative"},
    "y": {"field": "v", "type": "quantitative"},
    "color": {"datum": "Flujo de aire (L/min)", "type": "nominal"}
  }
}
]
}
